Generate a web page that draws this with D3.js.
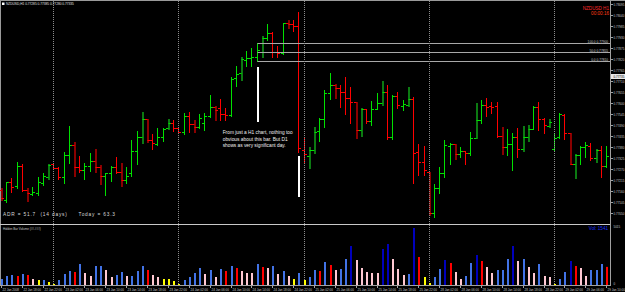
<!DOCTYPE html>
<html>
<head>
<meta charset="utf-8">
<script src="https://cdn.jsdelivr.net/npm/d3@7"></script>
<style>
  html, body { margin: 0; padding: 0; background: #000; }
  svg { display: block; }
  text { font-family: "Liberation Sans", Arial, sans-serif; }
</style>
</head>
<body>
<svg id="chart" width="625" height="292"></svg>
<script>
// NZDUSD H1 bars, 22 Jan 14:00 -> 29 Jan 10:00
var symbol = "NZDUSD,H1";

var opens = [
  0.77165,0.77115,0.77205,0.77185,0.77285,0.77165,0.77145,0.77150,0.77200,0.77230,
  0.77295,0.77275,0.77230,0.77340,0.77390,0.77280,0.77265,0.77285,0.77310,0.77280,
  0.77235,0.77250,0.77280,0.77255,0.77215,0.77250,0.77360,0.77430,0.77520,0.77415,
  0.77395,0.77430,0.77475,0.77500,0.77475,0.77455,0.77535,0.77495,0.77480,0.77500,
  0.77535,0.77580,0.77575,0.77545,0.77540,0.77725,0.77750,0.77815,0.77825,0.77830,
  0.77855,0.77925,0.77950,0.77855,0.77850,0.78000,0.77995,0.77985,0.77365,0.77335,
  0.77365,0.77460,0.77520,0.77650,0.77690,0.77675,0.77655,0.77625,0.77605,0.77465,
  0.77570,0.77510,0.77570,0.77600,0.77655,0.77430,0.77635,0.77585,0.77590,0.77620,
  0.77355,0.77305,0.77255,0.77050,0.77175,0.77250,0.77385,0.77395,0.77345,0.77360,
  0.77350,0.77425,0.77515,0.77590,0.77585,0.77585,0.77435,0.77380,0.77395,0.77430,
  0.77370,0.77430,0.77470,0.77580,0.77520,0.77485,0.77370,0.77430,0.77540,0.77450,
  0.77295,0.77340,0.77380,0.77385,0.77325,0.77365,0.77285
];
var highs = [
  0.77175,0.77205,0.77225,0.77305,0.77295,0.77175,0.77180,0.77230,0.77250,0.77295,
  0.77300,0.77280,0.77355,0.77485,0.77405,0.77335,0.77300,0.77350,0.77370,0.77290,
  0.77250,0.77285,0.77330,0.77300,0.77280,0.77415,0.77460,0.77555,0.77520,0.77445,
  0.77475,0.77475,0.77520,0.77515,0.77480,0.77550,0.77555,0.77515,0.77545,0.77550,
  0.77640,0.77585,0.77620,0.77575,0.77730,0.77785,0.77830,0.77860,0.77875,0.77900,
  0.77935,0.77995,0.77955,0.77885,0.78000,0.78015,0.78015,0.78055,0.77430,0.77380,
  0.77480,0.77525,0.77665,0.77750,0.77695,0.77690,0.77730,0.77680,0.77605,0.77575,
  0.77570,0.77610,0.77650,0.77710,0.77690,0.77640,0.77655,0.77615,0.77680,0.77630,
  0.77395,0.77385,0.77255,0.77195,0.77280,0.77415,0.77400,0.77395,0.77380,0.77360,
  0.77455,0.77600,0.77615,0.77625,0.77605,0.77605,0.77480,0.77470,0.77450,0.77475,
  0.77485,0.77490,0.77585,0.77605,0.77525,0.77520,0.77445,0.77550,0.77545,0.77450,
  0.77345,0.77385,0.77405,0.77400,0.77370,0.77385,0.77385
];
var lows = [
  0.77115,0.77105,0.77155,0.77175,0.77160,0.77110,0.77140,0.77140,0.77190,0.77220,
  0.77270,0.77220,0.77200,0.77300,0.77235,0.77255,0.77220,0.77260,0.77255,0.77195,
  0.77140,0.77210,0.77250,0.77185,0.77200,0.77235,0.77295,0.77400,0.77405,0.77370,
  0.77390,0.77410,0.77470,0.77460,0.77450,0.77445,0.77455,0.77455,0.77475,0.77465,
  0.77530,0.77515,0.77515,0.77515,0.77535,0.77685,0.77715,0.77785,0.77785,0.77810,
  0.77830,0.77915,0.77830,0.77830,0.77845,0.77975,0.77960,0.77355,0.77305,0.77275,
  0.77350,0.77410,0.77480,0.77620,0.77625,0.77580,0.77545,0.77500,0.77425,0.77435,
  0.77500,0.77490,0.77570,0.77590,0.77420,0.77420,0.77575,0.77565,0.77585,0.77200,
  0.77240,0.77240,0.77040,0.77030,0.77150,0.77230,0.77295,0.77320,0.77330,0.77295,
  0.77340,0.77425,0.77500,0.77535,0.77550,0.77430,0.77345,0.77340,0.77265,0.77330,
  0.77360,0.77410,0.77470,0.77465,0.77450,0.77480,0.77365,0.77425,0.77420,0.77295,
  0.77225,0.77295,0.77330,0.77315,0.77305,0.77230,0.77280
];
var closes = [
  0.77125,0.77205,0.77180,0.77285,0.77165,0.77150,0.77155,0.77205,0.77235,0.77290,
  0.77275,0.77230,0.77340,0.77390,0.77280,0.77265,0.77285,0.77310,0.77280,0.77235,
  0.77250,0.77280,0.77255,0.77215,0.77235,0.77360,0.77430,0.77520,0.77415,0.77400,
  0.77430,0.77470,0.77500,0.77475,0.77455,0.77535,0.77495,0.77480,0.77525,0.77535,
  0.77580,0.77565,0.77545,0.77540,0.77720,0.77745,0.77820,0.77825,0.77830,0.77865,
  0.77925,0.77950,0.77855,0.77850,0.78000,0.77995,0.77985,0.77375,0.77345,0.77365,
  0.77455,0.77520,0.77650,0.77690,0.77675,0.77655,0.77625,0.77605,0.77465,0.77570,
  0.77510,0.77570,0.77600,0.77655,0.77430,0.77635,0.77590,0.77595,0.77620,0.77350,
  0.77305,0.77265,0.77050,0.77175,0.77250,0.77390,0.77395,0.77345,0.77360,0.77350,
  0.77425,0.77515,0.77590,0.77580,0.77580,0.77435,0.77380,0.77395,0.77430,0.77370,
  0.77430,0.77470,0.77580,0.77520,0.77490,0.77505,0.77425,0.77545,0.77450,0.77295,
  0.77340,0.77380,0.77390,0.77325,0.77365,0.77285,0.77335
];
// bars painted by the hidden bar indicator
var hiddenBars = [0,5,9,14,18,19,23,27,28,32,37,41,46,50,55,59,60,64,68,69,73,78,82,87,91,96,100,101,105,109,110,114];

var volumes = [
  510,765,850,765,935,850,510,425,425,255,
  85,425,935,1190,1105,1785,1020,765,1615,1615,
  1275,680,850,1105,765,765,1190,1615,1275,850,
  680,510,510,340,85,425,680,1020,1445,935,
  1275,680,1360,1190,1615,1445,1190,1020,1020,1785,
  1530,1445,1615,935,1190,765,510,1020,425,680,
  1275,1190,1955,1700,1275,1360,2210,3315,2125,1445,
  1105,1020,1020,3060,3485,2210,1360,850,935,4845,
  2380,680,170,680,1360,2125,1870,1105,510,765,
  1870,2550,2040,1530,1020,1275,1275,2210,3315,2040,
  2210,1530,1020,1785,765,680,85,510,1105,2040,
  1615,1445,765,1275,1275,1785,1541
];
// b normal, n high, r climax, p churn, y low
var volumeTypes = (
  "b b b r b r p y b y " +
  "y b b b r b p p b b " +
  "p p b b p b b b r p " +
  "p y y y y b b b b p " +
  "b p b r b r p p p b " +
  "r p b p b p y b y b " +
  "b r b r p b b n p p " +
  "p p p n n p p p b n " +
  "r y y b b n r p p b " +
  "b n r p p b b b n p " +
  "b p p b p p y b b n " +
  "r p p b b b r").split(" ");

var dayStarts = [10, 34, 58, 82, 106];
var timeLabels = [
  "22 Jan 2008","22 Jan 18:00","22 Jan 22:00","23 Jan 02:00","23 Jan 06:00","23 Jan 10:00",
  "23 Jan 14:00","23 Jan 18:00","23 Jan 22:00","24 Jan 02:00","24 Jan 06:00","24 Jan 10:00",
  "24 Jan 14:00","24 Jan 18:00","24 Jan 22:00","25 Jan 02:00","25 Jan 06:00","25 Jan 10:00",
  "25 Jan 14:00","25 Jan 18:00","25 Jan 22:00","28 Jan 02:00","28 Jan 06:00","28 Jan 10:00",
  "28 Jan 14:00","28 Jan 18:00","28 Jan 22:00","29 Jan 02:00","29 Jan 06:00","29 Jan 10:00"
];
var priceTicks = [0.78095,0.78040,0.77985,0.77930,0.77875,0.77820,0.77765,0.77710,0.77655,0.77600,
  0.77545,0.77490,0.77435,0.77380,0.77325,0.77270,0.77215,0.77160,0.77105,0.77050];
var markPrice = 0.77735;

var fibLevels = ["100.0", "50.0", "0.0"];
var fibPrices = [0.77900, 0.77855, 0.77810];
var fibStartBar = 49;

var markerBars = [49, 57];
var markerTops = [0.77780, 0.77335];
var markerBottoms = [0.77505, 0.77130];

var noteLines = ["From just a H1 chart, nothing too", "obvious about this bar. But D1", "shows as very significant day."];
var noteBar = 42.5, notePrice = 0.77445;
var adrText = "ADR = 51.7  (14 days)     Today = 63.3";

var width = 625, height = 292,
    plotRight = 610,
    mainTop = 3, mainBottom = 223,
    volTop = 226, volBottom = 285;

var svg = d3.select("#chart");
svg.append("rect").attr("width", width).attr("height", height).attr("fill", "#000");

var x = d3.scaleLinear().domain([0, opens.length - 1]).range([1.0, 606.1]);
var y = d3.scaleLinear().domain([0.78100, 0.77000]).range([mainTop, mainBottom]);
var yv = d3.scaleLinear().domain([0, 5015]).range([volBottom, volTop]);
function px(i) { return Math.round(x(i)) + 0.5; }
function py(p) { return Math.round(y(p)) + 0.5; }

var bars = opens.map(function(o, i) {
  return { i: i, o: o, h: highs[i], l: lows[i], c: closes[i], hidden: hiddenBars.indexOf(i) >= 0 };
});
function upColor(d) { return d.c >= d.o; }

// frame
svg.append("line").attr("x1", 0).attr("x2", width).attr("y1", 0.5).attr("y2", 0.5).attr("stroke", "#9a9a9a");
svg.append("line").attr("x1", 0.5).attr("x2", 0.5).attr("y1", 0).attr("y2", volBottom).attr("stroke", "#9a9a9a");

// price bars
var g = svg.append("g");
g.selectAll("line.hl").data(bars).enter().append("line")
  .attr("class", "hl")
  .attr("x1", function(d) { return d.hidden ? Math.round(x(d.i)) + 1 : px(d.i); })
  .attr("x2", function(d) { return d.hidden ? Math.round(x(d.i)) + 1 : px(d.i); })
  .attr("y1", function(d) { return Math.round(y(d.h)); })
  .attr("y2", function(d) { return Math.round(y(d.l)) + 1; })
  .attr("stroke-width", function(d) { return d.hidden ? 2 : 1; })
  .attr("stroke", function(d) {
    if (d.hidden) return upColor(d) ? "#0c7a12" : "#8a0000";
    return upColor(d) ? "#00e000" : "#ff0000";
  });
g.selectAll("line.op").data(bars).enter().append("line")
  .attr("x1", function(d) { return px(d.i) - 2.5; })
  .attr("x2", function(d) { return px(d.i); })
  .attr("y1", function(d) { return py(d.o); })
  .attr("y2", function(d) { return py(d.o); })
  .attr("stroke", function(d) { return upColor(d) ? "#00e000" : "#ff0000"; });
g.selectAll("line.cl").data(bars).enter().append("line")
  .attr("x1", function(d) { return px(d.i); })
  .attr("x2", function(d) { return px(d.i) + 2.5; })
  .attr("y1", function(d) { return py(d.c); })
  .attr("y2", function(d) { return py(d.c); })
  .attr("stroke", function(d) { return upColor(d) ? "#00e000" : "#ff0000"; });

// white markers under the two bars
markerBars.forEach(function(b, k) {
  svg.append("line")
    .attr("x1", Math.round(x(b)) + 1).attr("x2", Math.round(x(b)) + 1)
    .attr("y1", y(markerTops[k])).attr("y2", y(markerBottoms[k]))
    .attr("stroke", "#fff").attr("stroke-width", 2);
});

// fibo levels
fibPrices.forEach(function(p, k) {
  svg.append("line")
    .attr("x1", px(fibStartBar)).attr("x2", plotRight)
    .attr("y1", py(p)).attr("y2", py(p))
    .attr("stroke", "#a8a8a8");
  svg.append("text")
    .attr("x", plotRight - 2).attr("y", py(p) - 1)
    .attr("text-anchor", "end").attr("font-size", 3.2).attr("fill", "#c8c8c8")
    .text(fibLevels[k] + " " + p.toFixed(5));
});

// day separators
dayStarts.forEach(function(i) {
  svg.append("line")
    .attr("x1", px(i)).attr("x2", px(i)).attr("y1", 1).attr("y2", volBottom)
    .attr("stroke", "#8c8c8c").attr("stroke-dasharray", "1,1");
});

// note
var widths = [70, 65, 63];
noteLines.forEach(function(t, k) {
  svg.append("text")
    .attr("x", x(noteBar)).attr("y", y(notePrice) + k * 6.5)
    .attr("font-size", 5.4).attr("fill", "#f0f0f0")
    .attr("textLength", widths[k]).attr("lengthAdjust", "spacingAndGlyphs")
    .text(t);
});

// ADR
svg.append("text")
  .attr("x", 3).attr("y", 216)
  .attr("font-family", "'Liberation Mono', monospace").attr("font-size", 4.8)
  .attr("fill", "#d8d8d8").attr("xml:space", "preserve").style("white-space", "pre")
  .attr("textLength", 112).attr("lengthAdjust", "spacing")
  .text(adrText);

// title
svg.append("rect").attr("x", 2).attr("y", 2.5).attr("width", 2.5).attr("height", 2.5).attr("fill", "#fff");
var last = bars[bars.length - 1];
svg.append("text").attr("x", 6).attr("y", 5.2).attr("font-size", 3.2).attr("fill", "#e0e0e0")
  .text(symbol + "  " + [last.o, last.h, last.l, last.c].map(function(v) { return v.toFixed(5); }).join(" "));
svg.append("text").attr("x", plotRight - 1).attr("y", 9.5).attr("text-anchor", "end")
  .attr("font-size", 4.6).attr("fill", "#ff2a2a").text("NZDUSD H1");
svg.append("text").attr("x", plotRight - 1).attr("y", 15).attr("text-anchor", "end")
  .attr("font-size", 4.6).attr("fill", "#ff3c14").text("00:00:16");

// price axis
svg.append("line").attr("x1", plotRight + 0.5).attr("x2", plotRight + 0.5).attr("y1", 0).attr("y2", volBottom + 1).attr("stroke", "#a0a0a0");
priceTicks.forEach(function(p) {
  svg.append("line").attr("x1", plotRight + 1).attr("x2", plotRight + 3).attr("y1", py(p)).attr("y2", py(p)).attr("stroke", "#a0a0a0");
  svg.append("text").attr("x", plotRight + 3.5).attr("y", py(p) + 1.2)
    .attr("font-size", 3).attr("fill", "#c8c8c8").text(p.toFixed(5));
});
svg.append("rect").attr("x", plotRight + 1).attr("y", py(markPrice) - 2.5).attr("width", 14).attr("height", 5).attr("fill", "#e8e8e8");
svg.append("text").attr("x", plotRight + 3.5).attr("y", py(markPrice) + 1.2)
  .attr("font-size", 3).attr("fill", "#000").text(markPrice.toFixed(5));

// volume window
svg.append("line").attr("x1", 0).attr("x2", plotRight).attr("y1", 224.5).attr("y2", 224.5).attr("stroke", "#c8c8c8");
svg.append("text").attr("x", 3).attr("y", 229.5).attr("font-size", 3).attr("fill", "#c8c8c8").text("Hidden Bar Volume (##.###)");
svg.append("text").attr("x", plotRight - 2).attr("y", 229.5).attr("text-anchor", "end")
  .attr("font-size", 4.6).attr("fill", "#1a30ff").text("Vol:  " + volumes[volumes.length - 1]);

var volColors = { b: "#4273e6", n: "#0000bb", r: "#ff0000", p: "#ffc8d2", y: "#ffff00" };
svg.append("g").selectAll("rect").data(volumes).enter().append("rect")
  .attr("x", function(v, i) { return Math.round(x(i)); })
  .attr("width", 2)
  .attr("y", function(v) { return yv(v); })
  .attr("height", function(v) { return volBottom - yv(v); })
  .attr("fill", function(v, i) { return volColors[volumeTypes[i]]; });

svg.append("text").attr("x", plotRight + 3.5).attr("y", 228).attr("font-size", 3).attr("fill", "#c8c8c8").text(yv.domain()[1]);
svg.append("text").attr("x", plotRight + 3.5).attr("y", 285).attr("font-size", 3).attr("fill", "#c8c8c8").text("0");

// time axis
svg.append("line").attr("x1", 0).attr("x2", plotRight + 1).attr("y1", volBottom + 0.5).attr("y2", volBottom + 0.5).attr("stroke", "#a0a0a0");
timeLabels.forEach(function(t, k) {
  var i = k * 4;
  svg.append("line").attr("x1", px(i)).attr("x2", px(i)).attr("y1", volBottom + 1).attr("y2", volBottom + 3).attr("stroke", "#a0a0a0");
  svg.append("text").attr("x", px(i) + 1).attr("y", 290.5).attr("font-size", 3).attr("fill", "#c8c8c8").text(t);
});
</script>
</body>
</html>
